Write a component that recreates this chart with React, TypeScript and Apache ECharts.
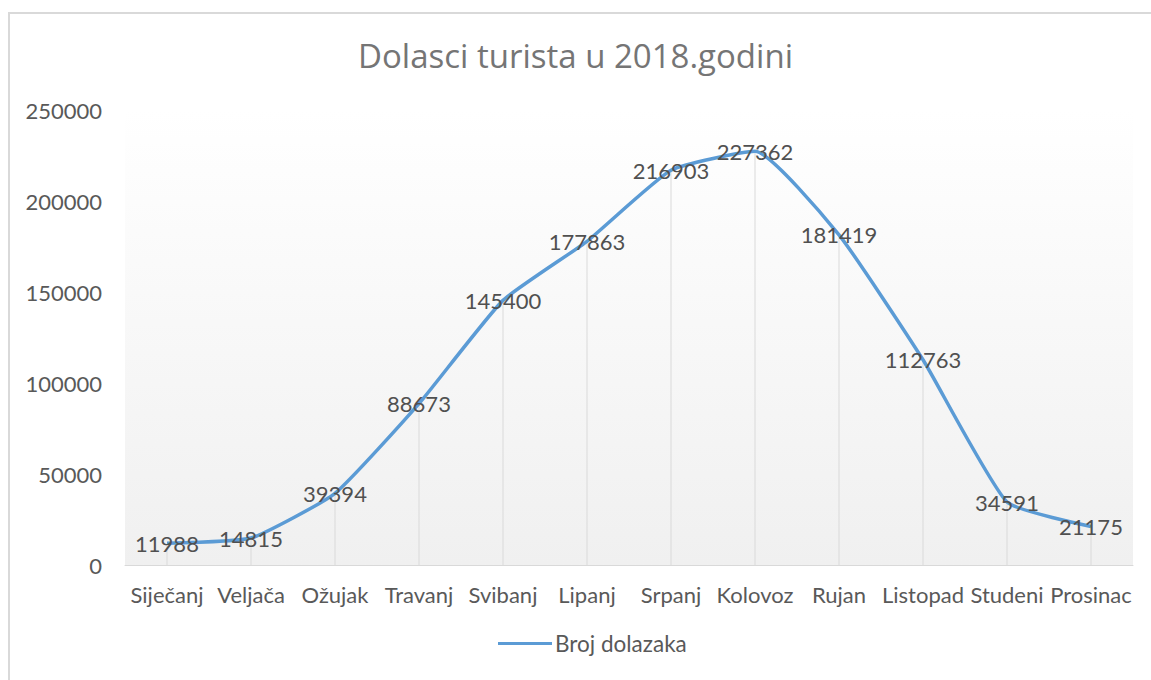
import React, { useEffect, useRef } from "react";
import * as echarts from "echarts";

const categories = ["Siječanj", "Veljača", "Ožujak", "Travanj", "Svibanj", "Lipanj", "Srpanj", "Kolovoz", "Rujan", "Listopad", "Studeni", "Prosinac"];
const values = [11988, 14815, 39394, 88673, 145400, 177863, 216903, 227362, 181419, 112763, 34591, 21175];
const seriesName = "Broj dolazaka";
const titleText = "Dolasci turista u 2018.godini";

export default function App() {
  const ref = useRef<HTMLDivElement>(null);
  useEffect(() => {
    const chart = echarts.init(ref.current!, null, { renderer: "svg" });
    const font = "Lato, 'Noto Sans', sans-serif";
    chart.setOption({
      animation: false,
      backgroundColor: "#ffffff",
      textStyle: { fontFamily: font },
      title: {
        text: titleText,
        left: "center",
        top: 34,
        textStyle: { fontFamily: "'Open Sans', sans-serif", fontSize: 33, fontWeight: "normal", color: "#757575" },
      },
      graphic: [
        {
          type: "rect",
          shape: { x: 9, y: 13, width: 1170, height: 700 },
          style: { fill: "none", stroke: "#d9d9d9", lineWidth: 2 },
          silent: true,
        },
      ],
      legend: {
        data: [{ name: seriesName, icon: "rect", itemStyle: { color: "#5b9bd5", opacity: 1 } }],
        bottom: 20,
        left: 493,
        itemWidth: 54,
        itemHeight: 3,
        itemGap: 10,
        textStyle: { fontFamily: font, fontSize: 22.5, color: "#595959", padding: [0, 0, 0, -2] },
      },
      grid: {
        left: 125,
        right: 18,
        top: 110,
        bottom: 115,
        show: true,
        borderWidth: 0,
        backgroundColor: {
          type: "linear",
          x: 0,
          y: 0,
          x2: 0,
          y2: 1,
          colorStops: [
            { offset: 0, color: "#ffffff" },
            { offset: 1, color: "#f0f0f0" },
          ],
        },
      },
      xAxis: {
        type: "category",
        data: categories,
        boundaryGap: true,
        axisLine: { show: true, lineStyle: { color: "#d9d9d9", width: 1 } },
        axisTick: { show: false },
        axisLabel: { color: "#595959", fontSize: 22, fontFamily: font, margin: 18, interval: 0 },
        splitLine: { show: false },
      },
      yAxis: {
        type: "value",
        min: 0,
        max: 250000,
        interval: 50000,
        axisLine: { show: false },
        axisTick: { show: false },
        splitLine: { show: false },
        axisLabel: {
          color: "#595959",
          fontSize: 22,
          fontFamily: font,
          margin: 23,
          formatter: (v: number) => String(v),
        },
      },
      series: [
        {
          name: "drop",
          type: "bar",
          data: values,
          barWidth: 1,
          itemStyle: { color: "#d9d9d9" },
          silent: true,
          z: 1,
        },
        {
          name: seriesName,
          type: "line",
          data: values,
          smooth: 0.15,
          symbol: "circle",
          symbolSize: 2,
          showSymbol: true,
          lineStyle: { color: "#5b9bd5", width: 3.5 },
          itemStyle: { color: "rgba(91,155,213,0)" },
          z: 3,
          label: {
            show: true,
            position: "inside",
            color: "#505050",
            fontSize: 22,
            fontFamily: font,
          },
        },
      ],
    });
    return () => chart.dispose();
  }, []);
  return <div ref={ref} style={{ position: "fixed", left: 0, top: 0, width: 1151, height: 680 }} />;
}
